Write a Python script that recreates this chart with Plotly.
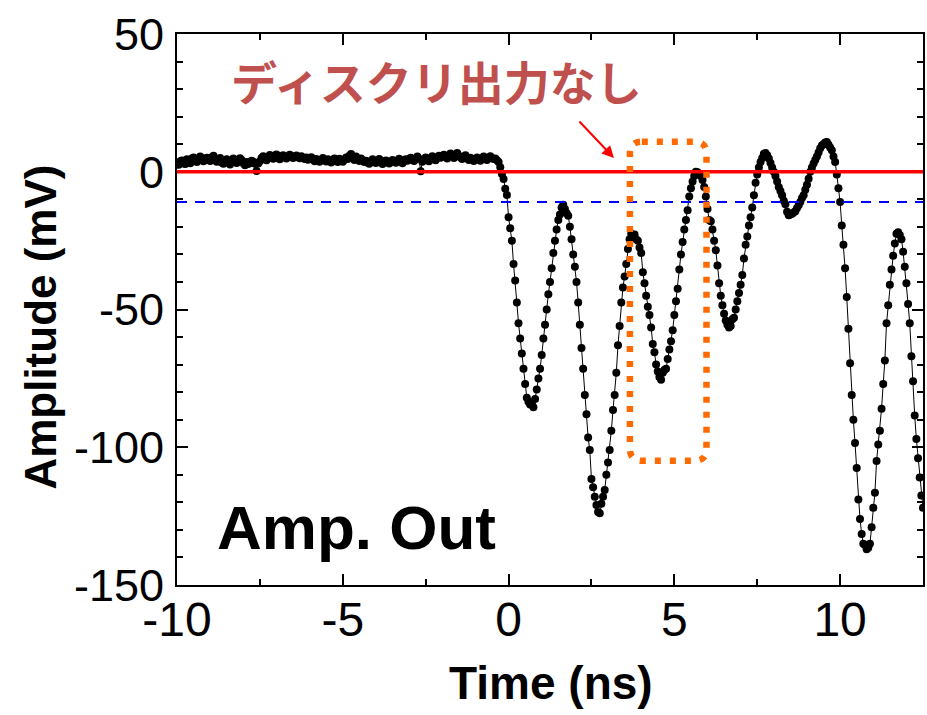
import plotly.graph_objects as go

# ---------------- data ----------------
t_start_ns = -10.0
dt_ns = 0.05

baseline_mV = [
    # -10.00 .. -9.05
    3.2, 2.5, 3.8, 4.1, 3.0, 2.8, 4.5, 3.9, 3.1, 4.8, 5.2, 4.0, 3.5, 4.7, 5.5, 4.9, 3.8, 4.4, 5.1, 4.6,
    # -9.00 .. -8.05
    3.9, 5.3, 5.8, 4.7, 3.6, 4.2, 5.0, 3.4, 2.9, 3.7, 4.5, 3.3, 2.6, 3.9, 4.8, 4.1, 3.2, 3.6, 4.9, 4.3,
    # -8.00 .. -7.05
    3.1, 2.4, 3.5, 2.8, 3.2, 4.0, 3.6, 2.9, 0.3, 3.0, 3.8, 5.0, 5.6, 4.8, 4.2, 5.3, 6.1, 5.4, 4.7, 5.9,
    # -7.00 .. -6.05
    6.3, 5.1, 4.5, 5.6, 6.0, 5.2, 4.8, 5.5, 6.2, 5.7, 5.0, 5.4, 5.9, 5.3, 4.9, 5.6, 5.1, 4.6, 5.2, 4.4,
    # -6.00 .. -5.05
    4.9, 5.3, 4.5, 3.8, 4.6, 4.1, 3.6, 4.3, 5.0, 4.2, 3.7, 4.5, 3.9, 3.4, 4.4, 4.8, 4.0, 3.5, 4.7, 4.1,
    # -5.00 .. -4.05
    3.6, 4.4, 5.2, 4.6, 5.8, 6.4, 5.1, 4.3, 5.5, 4.7, 3.9, 4.8, 4.2, 3.5, 4.0, 3.3, 2.9, 3.8, 4.5, 3.7,
    # -4.00 .. -3.05
    3.2, 3.9, 4.6, 3.5, 2.8, 3.4, 4.1, 3.7, 3.0, 3.6, 4.3, 3.9, 3.3, 4.0, 4.7, 4.2, 3.1, 3.8, 4.5, 4.0,
    # -3.00 .. -2.05
    4.6, 5.1, 4.3, 3.9, 4.8, 5.5, 4.7, 0.2, 3.6, 4.4, 5.2, 4.5, 3.8, 4.9, 5.6, 5.0, 4.2, 5.3, 5.8, 5.1,
    # -2.00 .. -1.05
    5.5, 6.2, 5.4, 4.8, 5.9, 6.6, 5.7, 5.0, 6.1, 6.8, 5.8, 5.2, 4.6, 5.4, 6.0, 4.9, 4.3, 5.1, 4.5, 3.9,
    # -1.00 .. -0.05
    4.4, 5.2, 4.7, 4.0, 4.8, 5.5, 4.9, 4.3, 5.1, 5.6, 5.0, 4.6, 4.8, 4.2, 3.5, 1.6, -0.8, -2.6, -6.2, -8.4,
]

pulse_mV = [
    # 0.00 .. 0.95
    -16.5, -20.5, -25.0, -33.5, -39.5, -47.5, -55.0, -60.5, -66.0, -71.5,
    -77.0, -82.0, -83.5, -84.5, -84.0, -85.5, -82.5, -79.0, -75.0, -71.5,
    # 1.00 .. 1.95
    -66.5, -60.5, -55.5, -50.0, -44.5, -40.0, -35.0, -29.5, -25.0, -21.0,
    -17.5, -15.5, -13.0, -12.0, -13.5, -15.0, -16.0, -20.0, -24.5, -30.0,
    # 2.00 .. 2.95
    -34.5, -40.0, -47.5, -55.5, -64.0, -71.5, -81.0, -88.0, -96.5, -101.0,
    -111.5, -114.5, -118.0, -121.0, -123.5, -124.0, -120.5, -118.0, -115.5, -110.0,
    # 3.00 .. 3.95
    -105.5, -101.0, -94.0, -86.5, -81.0, -73.0, -63.0, -56.0, -47.5, -42.0,
    -38.0, -33.5, -28.0, -24.5, -22.5, -23.0, -22.8, -24.5, -25.0, -27.5,
    # 4.00 .. 4.95
    -29.5, -36.5, -40.5, -45.0, -49.0, -52.0, -56.5, -62.5, -65.5, -70.0,
    -72.5, -74.5, -75.5, -73.0, -72.0, -71.5, -68.0, -64.5, -61.5, -57.5,
    # 5.00 .. 5.95
    -52.0, -47.0, -42.5, -35.5, -30.0, -25.5, -21.0, -17.5, -14.0, -9.0,
    -6.0, -3.5, -1.5, 0.0, -0.2, -1.0, -1.5, -3.0, -5.5, -9.0,
    # 6.00 .. 6.95
    -13.5, -17.5, -18.0, -21.0, -25.0, -28.5, -34.0, -40.5, -45.0, -48.5,
    -51.5, -54.0, -55.5, -56.5, -56.0, -53.5, -53.0, -50.0, -47.0, -44.0,
    # 7.00 .. 7.95
    -41.0, -37.5, -31.5, -26.5, -23.5, -19.5, -16.5, -13.0, -8.5, -4.0,
    -1.0, 1.5, 3.5, 5.0, 6.5, 6.8, 6.0, 4.8, 3.2, 1.5,
    # 8.00 .. 8.95
    0.0, -1.5, -3.5, -5.5, -7.0, -8.5, -10.5, -11.8, -14.5, -15.8,
    -15.5, -15.2, -14.8, -14.3, -13.2, -12.2, -11.0, -9.5, -8.5, -6.5,
    # 9.00 .. 9.95
    -4.7, -2.5, 0.0, 1.5, 3.0, 4.3, 5.5, 7.0, 8.5, 9.5,
    10.0, 10.6, 10.8, 9.8, 8.8, 7.8, 5.5, 3.5, -1.0, -6.0,
    # 10.00 .. 10.95
    -11.0, -19.5, -26.5, -35.0, -45.5, -57.0, -69.5, -81.0, -90.0, -98.5,
    -107.5, -119.0, -126.0, -131.5, -135.0, -135.5, -137.0, -136.5, -135.0, -129.0,
    # 11.00 .. 11.95
    -122.0, -116.5, -105.0, -99.0, -94.0, -86.0, -77.0, -68.5, -55.0, -48.5,
    -41.0, -35.5, -30.5, -26.0, -22.5, -22.0, -23.0, -24.5, -29.0, -34.5,
    # 12.00 .. 12.50
    -40.5, -48.0, -55.0, -67.0, -76.0, -88.5, -97.0, -104.0, -111.0, -117.5, -122.0,
]

amplitude_mV = baseline_mV + pulse_mV
time_ns = [round(t_start_ns + i * dt_ns, 3) for i in range(len(amplitude_mV))]

x_ticks = [-10, -5, 0, 5, 10]
y_ticks = [-150, -100, -50, 0, 50]
x_range = [-10, 12.5]
y_range = [-150, 50]

zero_level_mV = 0
threshold_mV = -11
box_t = [3.66, 5.97]
box_v = [-104.9, 10.9]

label_jp = "ディスクリ出力なし"
label_amp = "Amp. Out"
x_title = "Time (ns)"
y_title = "Amplitude (mV)"

# ---------------- figure ----------------
fig = go.Figure()
fig.add_trace(go.Scatter(
    x=time_ns, y=amplitude_mV, mode="lines+markers",
    line=dict(color="black", width=1),
    marker=dict(color="black", size=8),
    showlegend=False, hoverinfo="skip",
))

# rounded dotted box
x0, x1 = box_t
y0, y1 = box_v
rx, ry = 0.36, 4.4
path = (f"M {x0+rx},{y1} L {x1-rx},{y1} Q {x1},{y1} {x1},{y1-ry} "
        f"L {x1},{y0+ry} Q {x1},{y0} {x1-rx},{y0} L {x0+rx},{y0} "
        f"Q {x0},{y0} {x0},{y0+ry} L {x0},{y1-ry} Q {x0},{y1} {x0+rx},{y1} Z")

shapes = [
    dict(type="line", xref="paper", x0=0, x1=1, yref="y", y0=zero_level_mV, y1=zero_level_mV,
         line=dict(color="#FF0000", width=3.5), layer="above"),
    dict(type="line", xref="paper", x0=0, x1=1, yref="y", y0=threshold_mV, y1=threshold_mV,
         line=dict(color="#0000FF", width=2, dash="10px,8px"), layer="above"),
    dict(type="path", xref="x", yref="y", path=path,
         line=dict(color="#FF6A00", width=6.5, dash="6px,9px"), layer="above"),
]

fam = "Liberation Sans, Arial, sans-serif"

fig.update_layout(
    width=927, height=715,
    margin=dict(l=177, r=2, t=34, b=130),
    paper_bgcolor="white", plot_bgcolor="white",
    font=dict(family=fam, color="black"),
    shapes=shapes,
    xaxis=dict(
        range=x_range, tickvals=x_ticks, ticktext=[str(v) for v in x_ticks],
        showgrid=False, zeroline=False, showline=True, linecolor="black", linewidth=2,
        mirror="allticks", ticks="inside", ticklen=11, tickwidth=2, tickcolor="black",
        minor=dict(ticks="inside", dtick=2.5, tick0=0, ticklen=6, tickwidth=2, tickcolor="black"),
        tickfont=dict(family=fam, size=48, color="black"),
        ticklabelstandoff=-9,
    ),
    yaxis=dict(
        range=y_range, tickvals=y_ticks, ticktext=[str(v) for v in y_ticks],
        showgrid=False, zeroline=False, showline=True, linecolor="black", linewidth=2,
        mirror="allticks", ticks="inside", ticklen=11, tickwidth=2, tickcolor="black",
        minor=dict(ticks="inside", dtick=10, tick0=0, ticklen=6, tickwidth=2, tickcolor="black"),
        tickfont=dict(family=fam, size=45, color="black"), ticklabelstandoff=2,
    ),
    annotations=[
        dict(text=f"<b>{y_title}</b>", xref="paper", yref="paper", x=-0.183, y=0.468,
             textangle=-90, showarrow=False, xanchor="center", yanchor="middle",
             font=dict(family=fam, size=44, color="black")),
        dict(text=f"<b>{x_title}</b>", xref="paper", yref="paper", x=0.501, y=-0.178,
             showarrow=False, xanchor="center", yanchor="middle",
             font=dict(family=fam, size=46, color="black")),
        dict(text=f"<b>{label_amp}</b>", xref="paper", yref="paper", x=0.2406, y=0.105,
             showarrow=False, xanchor="center", yanchor="middle",
             font=dict(family=fam, size=62, color="black")),
        dict(text=f"<b>{label_jp}</b>", xref="paper", yref="paper", x=0.3476, y=0.9165,
             showarrow=False, xanchor="center", yanchor="middle",
             font=dict(family="Noto Sans CJK JP, sans-serif", size=46, color="#C0504D")),
        dict(text="", x=3.18, y=5.0, xref="x", yref="y", ax=-36, ay=-38,
             showarrow=True, arrowhead=2, arrowsize=1.2, arrowwidth=2, arrowcolor="#FF0000"),
    ],
)

fig.write_html("out.html")
